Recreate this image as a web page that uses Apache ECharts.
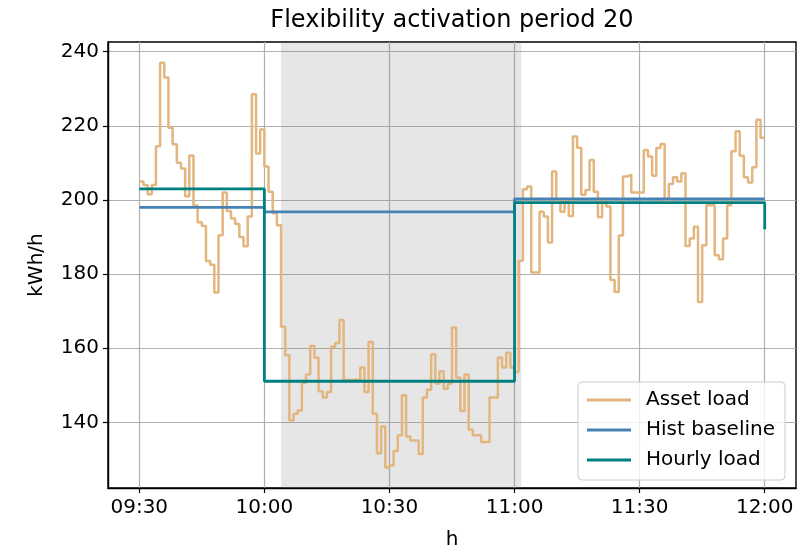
<!DOCTYPE html>
<html>
<head>
<meta charset="utf-8">
<script src="https://cdn.jsdelivr.net/npm/echarts@6/dist/echarts.min.js"></script>
<style>
html,body{margin:0;padding:0;background:#fff;}
#chart{width:801px;height:548px;}
</style>
</head>
<body>
<div id="chart"></div>
<script>
// ---- data ----
const titleText = 'Flexibility activation period 20';
const xAxisName = 'h';
const yAxisName = 'kWh/h';
// minutes after 09:30, one value per minute (last value repeated at 12:00)
const assetLoad = [
  205, 204, 201.5, 204, 214.5, 237, 233, 219.5, 215, 210,
  208.5, 201, 212, 198.5, 194, 193, 183.5, 182.5, 175, 190.5,
  202, 197, 195, 193.5, 190, 187.5, 195.5, 228.5, 212.5, 219,
  209, 202.2, 196.4, 193.2, 165.8, 158.1, 140.5, 142.3, 143.2, 150.6,
  152.9, 160.6, 157.4, 148.4, 146.7, 148.2, 160.4, 161.4, 167.6, 151.4,
  151.4, 151.6, 151.4, 154.8, 148.2, 161.7, 142.3, 131.7, 138.9, 127.8,
  128.4, 132.3, 136.5, 147.3, 136.2, 135.1, 135.1, 131.5, 146.7, 148.8,
  158.4, 150.5, 153.8, 149.1, 150.5, 165.6, 152.1, 143.1, 152.9, 138,
  136.5, 136.5, 134.7, 134.7, 146.7, 146.7, 157.5, 154.8, 158.8, 154.8,
  153.6, 183.6, 202.9, 203.6, 180.4, 180.4, 196.8, 195.5, 188.5, 207.7,
  200, 196.8, 199.8, 195.7, 217.1, 214.1, 201.4, 202.7, 210.8, 202.2,
  195.3, 199.6, 198.2, 178.4, 175.2, 190.4, 206.3, 206.8, 202, 202,
  202, 213.5, 211.7, 206.5, 214, 215.1, 200, 204.3, 206.1, 205,
  207.2, 187.6, 189.6, 192.8, 172.5, 187.8, 198.6, 198.6, 185.1, 184,
  189.6, 198.6, 213.1, 218.5, 211.9, 206.1, 204.7, 208.8, 221.6, 216.8,
  216.8
];
const hourMinutes = [0, 30, 90, 150];
const histBaseline = [198, 196.8, 200.3, 200.3];
const hourlyLoad = [203, 151.1, 199.3, 192.1];
const activationStart = 34;   // minutes after 09:30
const activationEnd = 91.6;
const xTickValues = [0, 30, 60, 90, 120, 150];
const xTickLabels = ['09:30', '10:00', '10:30', '11:00', '11:30', '12:00'];
const yTickValues = [140, 160, 180, 200, 220, 240];
const seriesNames = ['Asset load', 'Hist baseline', 'Hourly load'];

// ---- build ----
const FONT = 'DejaVu Sans';
const assetData = assetLoad.map((v, i) => [i, v]);
const baseData = hourMinutes.map((m, i) => [m, histBaseline[i]]);
const hourlyData = hourMinutes.map((m, i) => [m, hourlyLoad[i]]);

const chart = echarts.init(document.getElementById('chart'), null, {renderer: 'canvas'});
const option = {
  animation: false,
  backgroundColor: '#ffffff',
  grid: {
    left: 108, right: 5, top: 42, bottom: 60,
    show: true, borderColor: '#000', borderWidth: 1.4, backgroundColor: 'transparent'
  },
  graphic: [
    {type: 'text', x: 452, y: 21, z: 100,
     style: {text: titleText, fontFamily: FONT, fontSize: 24, fill: '#000', align: 'center', verticalAlign: 'middle'}},
    {type: 'text', x: 452, y: 540, z: 100,
     style: {text: xAxisName, fontFamily: FONT, fontSize: 20, fill: '#000', align: 'center', verticalAlign: 'middle'}},
    {type: 'text', x: 37, y: 265, rotation: Math.PI / 2, z: 100,
     style: {text: yAxisName, fontFamily: FONT, fontSize: 20, fill: '#000', align: 'center', verticalAlign: 'middle'}}
  ],
  legend: {
    orient: 'vertical',
    left: 578, top: 382,
    data: seriesNames,
    icon: 'rect',
    itemWidth: 44, itemHeight: 3,
    itemGap: 10,
    padding: [8, 10, 10, 9],
    backgroundColor: 'rgba(255,255,255,0.8)',
    borderColor: '#cccccc', borderWidth: 1, borderRadius: 4,
    textStyle: {fontFamily: FONT, fontSize: 20, color: '#000', lineHeight: 20, padding: [0, 0, 0, 10]}
  },
  xAxis: {
    type: 'value', min: -7.5, max: 157.5,
    axisLine: {show: true, onZero: false, lineStyle: {color: '#000', width: 1.4}},
    axisTick: {show: true, length: 5, customValues: xTickValues, lineStyle: {color: '#000', width: 1.2}},
    axisLabel: {
      customValues: xTickValues, margin: 10, color: '#000', fontFamily: FONT, fontSize: 20,
      formatter: v => { const k = xTickValues.indexOf(Math.round(v)); return k >= 0 ? xTickLabels[k] : ''; }
    },
    splitLine: {show: true, lineStyle: {color: '#b0b0b0', width: 1.2}}
  },
  yAxis: {
    type: 'value', min: 122.3, max: 242.6,
    axisLine: {show: true, onZero: false, lineStyle: {color: '#000', width: 1.4}},
    axisTick: {show: true, length: 5, customValues: yTickValues, lineStyle: {color: '#000', width: 1.2}},
    axisLabel: {customValues: yTickValues, margin: 9, color: '#000', fontFamily: FONT, fontSize: 20},
    splitLine: {show: true, lineStyle: {color: '#b0b0b0', width: 1.2}}
  },
  series: [
    {
      name: seriesNames[0], type: 'line', step: 'end', data: assetData,
      showSymbol: false, symbol: 'none', color: '#e2b67e',
      lineStyle: {width: 2.5, color: '#e2b67e'},
      markArea: {
        silent: true,
        itemStyle: {color: 'rgba(128,128,128,0.2)'},
        data: [[{xAxis: activationStart}, {xAxis: activationEnd}]]
      }
    },
    {
      name: seriesNames[1], type: 'line', step: 'end', data: baseData,
      showSymbol: false, symbol: 'none', color: '#4682b4',
      lineStyle: {width: 2.8, color: '#4682b4'}
    },
    {
      name: seriesNames[2], type: 'line', step: 'end', data: hourlyData,
      showSymbol: false, symbol: 'none', color: '#008080',
      lineStyle: {width: 2.8, color: '#008080'}
    }
  ]
};
chart.setOption(option);
</script>
</body>
</html>
